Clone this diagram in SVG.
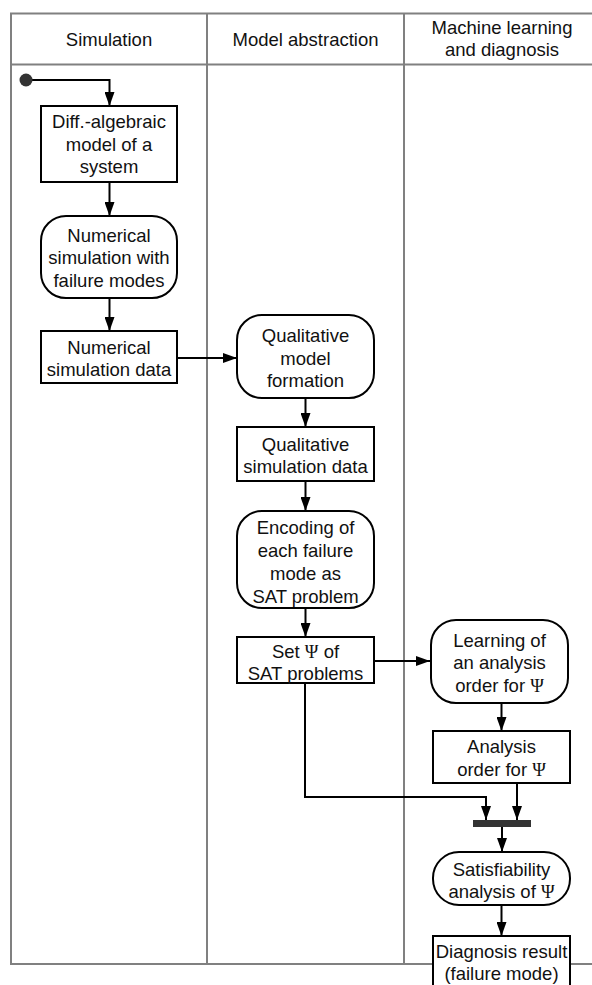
<svg xmlns="http://www.w3.org/2000/svg" width="592" height="985" viewBox="0 0 592 985">
  <style>
    .lane { fill: none; stroke: #808080; stroke-width: 2; }
    .box { fill: #ffffff; stroke: #000000; stroke-width: 2; }
    .txt { font-family: "Liberation Sans", Arial, Helvetica, sans-serif; font-size: 18.5px; fill: #111111; text-anchor: middle; }
    .psi { font-family: "Liberation Serif", "DejaVu Serif", serif; }
    .edge { fill: none; stroke: #000000; stroke-width: 2; }
  </style>
  <defs>
    <marker id="arrow" markerUnits="userSpaceOnUse" markerWidth="14" markerHeight="10" refX="14" refY="5" orient="auto">
      <path d="M0,0 L14,5 L0,10 Z" fill="#000000"/>
    </marker>
  </defs>
  <rect width="592" height="985" fill="#ffffff"/>

  <g id="swimlanes">
    <rect class="lane" x="11" y="13.5" width="700" height="950.5"/>
    <line class="lane" x1="11" y1="64.5" x2="700" y2="64.5"/>
    <line class="lane" x1="207" y1="13.5" x2="207" y2="964"/>
    <line class="lane" x1="404" y1="13.5" x2="404" y2="964"/>
    <text class="txt" x="109" y="45.5">Simulation</text>
    <text class="txt" x="305.5" y="45.5">Model abstraction</text>
    <text class="txt" x="502" y="33.5">Machine learning</text>
    <text class="txt" x="502" y="56">and diagnosis</text>
  </g>

  <g id="connectors">
    <path class="edge" d="M26,80 H109.5 V106" marker-end="url(#arrow)"/>
    <path class="edge" d="M109.5,182 V216" marker-end="url(#arrow)"/>
    <path class="edge" d="M109.5,298 V331" marker-end="url(#arrow)"/>
    <path class="edge" d="M177,358 H237" marker-end="url(#arrow)"/>
    <path class="edge" d="M305.5,398 V427" marker-end="url(#arrow)"/>
    <path class="edge" d="M305.5,481 V511" marker-end="url(#arrow)"/>
    <path class="edge" d="M305.5,608 V637" marker-end="url(#arrow)"/>
    <path class="edge" d="M374,661 H430" marker-end="url(#arrow)"/>
    <path class="edge" d="M501.5,703 V731" marker-end="url(#arrow)"/>
    <path class="edge" d="M305,683 V797 H486 V820" marker-end="url(#arrow)"/>
    <path class="edge" d="M517,783 V820" marker-end="url(#arrow)"/>
    <path class="edge" d="M502,827 V852" marker-end="url(#arrow)"/>
    <path class="edge" d="M501.5,905 V936" marker-end="url(#arrow)"/>
  </g>

  <g id="start">
    <circle cx="26" cy="80" r="6.5" fill="#333333"/>
  </g>

  <g id="n-dae-model">
    <rect class="box" x="41" y="106" width="136" height="76"/>
    <text class="txt" x="109" y="128">Diff.-algebraic</text>
    <text class="txt" x="109" y="150.5">model of a</text>
    <text class="txt" x="109" y="173">system</text>
  </g>

  <g id="n-num-sim">
    <rect class="box" x="41" y="216" width="136" height="82" rx="25" ry="25"/>
    <text class="txt" x="109" y="241.5">Numerical</text>
    <text class="txt" x="109" y="264">simulation with</text>
    <text class="txt" x="109" y="286.5">failure modes</text>
  </g>

  <g id="n-num-data">
    <rect class="box" x="41" y="331" width="136" height="52"/>
    <text class="txt" x="109" y="354">Numerical</text>
    <text class="txt" x="109" y="375.5">simulation data</text>
  </g>

  <g id="n-qual-model">
    <rect class="box" x="237" y="315" width="137" height="83" rx="25" ry="25"/>
    <text class="txt" x="305.5" y="342">Qualitative</text>
    <text class="txt" x="305.5" y="364.5">model</text>
    <text class="txt" x="305.5" y="387">formation</text>
  </g>

  <g id="n-qual-data">
    <rect class="box" x="237" y="427" width="137" height="54"/>
    <text class="txt" x="305.5" y="450.5">Qualitative</text>
    <text class="txt" x="305.5" y="473">simulation data</text>
  </g>

  <g id="n-encoding">
    <rect class="box" x="237" y="511" width="137" height="97" rx="25" ry="25"/>
    <text class="txt" x="305.5" y="533.5">Encoding of</text>
    <text class="txt" x="305.5" y="556.5">each failure</text>
    <text class="txt" x="305.5" y="579.5">mode as</text>
    <text class="txt" x="305.5" y="602.5">SAT problem</text>
  </g>

  <g id="n-set-psi">
    <rect class="box" x="237" y="637" width="137" height="46"/>
    <text class="txt" x="305.5" y="657.5">Set <tspan class="psi">Ψ</tspan> of</text>
    <text class="txt" x="305.5" y="680">SAT problems</text>
  </g>

  <g id="n-learning">
    <rect class="box" x="431" y="620" width="137" height="83" rx="25" ry="25"/>
    <text class="txt" x="499.5" y="646.5">Learning of</text>
    <text class="txt" x="499.5" y="669">an analysis</text>
    <text class="txt" x="499.5" y="691.5">order for <tspan class="psi">Ψ</tspan></text>
  </g>

  <g id="n-order">
    <rect class="box" x="433" y="731" width="137" height="52"/>
    <text class="txt" x="501.5" y="753">Analysis</text>
    <text class="txt" x="501.5" y="775.5">order for <tspan class="psi">Ψ</tspan></text>
  </g>

  <g id="n-join">
    <rect x="473" y="820" width="58" height="7" fill="#333333"/>
  </g>

  <g id="n-sat-analysis">
    <rect class="box" x="433" y="852" width="137" height="53" rx="26" ry="26"/>
    <text class="txt" x="501.5" y="875.5">Satisfiability</text>
    <text class="txt" x="501.5" y="897.5">analysis of <tspan class="psi">Ψ</tspan></text>
  </g>

  <g id="n-result">
    <rect class="box" x="433" y="936" width="137" height="80"/>
    <text class="txt" x="501.5" y="958">Diagnosis result</text>
    <text class="txt" x="501.5" y="980">(failure mode)</text>
  </g>
</svg>
